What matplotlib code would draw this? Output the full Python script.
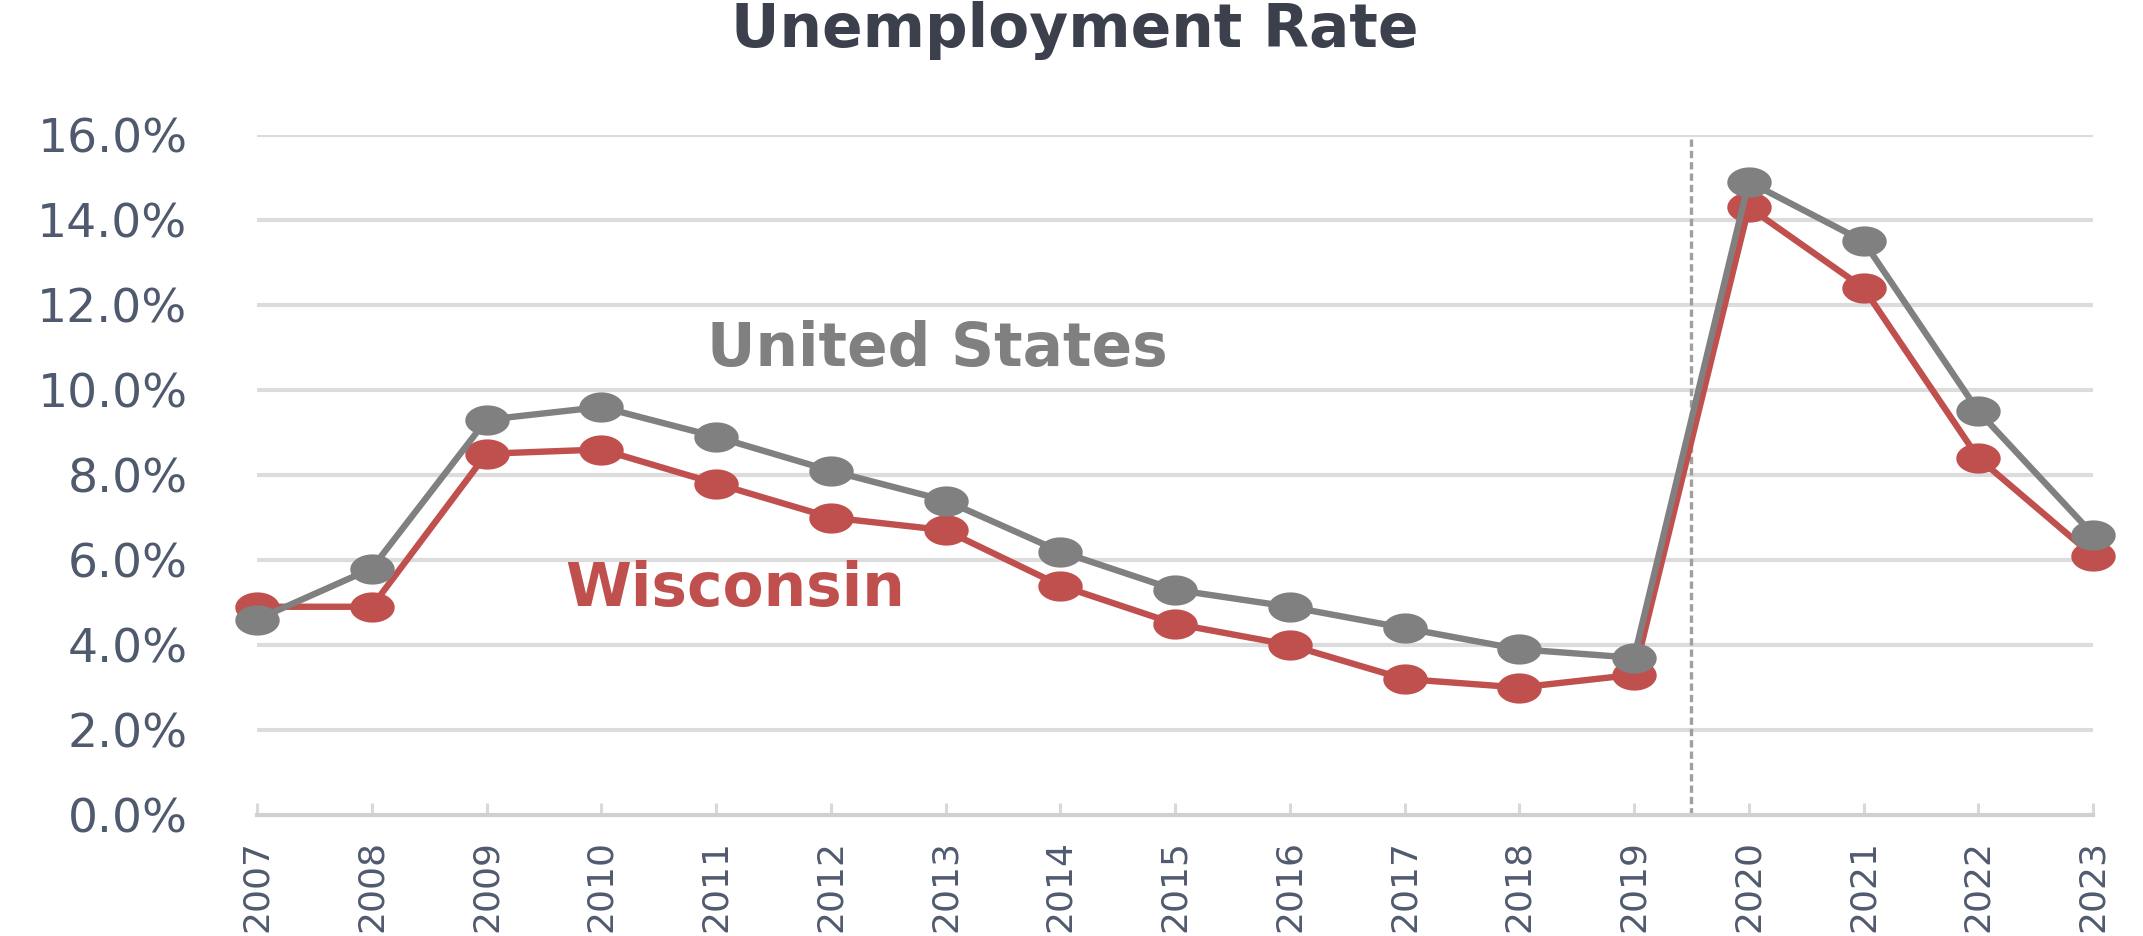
import numpy as np
import matplotlib
matplotlib.use("Agg")
import matplotlib.pyplot as plt
from matplotlib.path import Path
from matplotlib.ticker import FuncFormatter

# ---- data ----
years = [2007, 2008, 2009, 2010, 2011, 2012, 2013, 2014, 2015,
         2016, 2017, 2018, 2019, 2020, 2021, 2022, 2023]
us_rate = [4.6, 5.8, 9.3, 9.6, 8.9, 8.1, 7.4, 6.2, 5.3,
           4.9, 4.4, 3.9, 3.7, 14.9, 13.5, 9.5, 6.6]
wi_rate = [4.9, 4.9, 8.5, 8.6, 7.8, 7.0, 6.7, 5.4, 4.5,
           4.0, 3.2, 3.0, 3.3, 14.3, 12.4, 8.4, 6.1]
yticks = [0, 2, 4, 6, 8, 10, 12, 14, 16]
title = "Unemployment Rate"
us_label = "United States"
wi_label = "Wisconsin"
covid_break = 2019.5

# ---- style ----
US_COLOR = "#808080"
WI_COLOR = "#C0504D"
GRID_COLOR = "#DCDCDC"
LABEL_COLOR = "#505A6E"
TITLE_COLOR = "#3C3F4C"

W, H = 2143, 936
fig = plt.figure(figsize=(W / 100, H / 100), dpi=100)
left, right, top, bottom = 257, 2093, 135, 815
ax = fig.add_axes([left / W, 1 - bottom / H, (right - left) / W, (bottom - top) / H])

# elliptical marker (the reference is horizontally stretched)
t = np.linspace(0, 2 * np.pi, 64)
ell = Path(np.column_stack([0.5 * np.cos(t), 0.34 * np.sin(t)]), closed=True)

ax.set_xlim(years[0], years[-1])
ax.set_ylim(yticks[0], yticks[-1])

for yv in yticks[1:]:
    ax.axhline(yv, color=GRID_COLOR, lw=3.0, zorder=1)

ax.plot([covid_break, covid_break], [yticks[0], yticks[-1]], color="#A0A0A0",
        lw=2.4, linestyle=(0, (2.2, 1.2)), zorder=2)

ax.plot(years, wi_rate, color=WI_COLOR, lw=4.6, marker=ell, markersize=32,
        markeredgewidth=0, zorder=3, clip_on=False)
ax.plot(years, us_rate, color=US_COLOR, lw=4.6, marker=ell, markersize=32,
        markeredgewidth=0, zorder=4, clip_on=False)

ax.text(2012.93, 10.56, us_label, color=US_COLOR, fontsize=43,
        fontweight="bold", ha="center", va="baseline")
ax.text(2011.17, 4.92, wi_label, color=WI_COLOR, fontsize=43,
        fontweight="bold", ha="center", va="baseline")

for s in ["left", "right", "top"]:
    ax.spines[s].set_visible(False)
ax.spines["bottom"].set_color("#D0D0D0")
ax.spines["bottom"].set_linewidth(3.0)

ax.set_yticks(yticks)
ax.yaxis.set_major_formatter(FuncFormatter(lambda v, p: f"{v:.1f}%"))
ax.tick_params(axis="y", length=0, pad=50, labelsize=34, labelcolor=LABEL_COLOR)

ax.set_xticks(years)
ax.set_xticklabels([str(y) for y in years], rotation=90)
ax.tick_params(axis="x", direction="in", length=9, width=2.2, color="#D9D9D9",
               pad=18, labelsize=26, labelcolor=LABEL_COLOR)

fig.text(1075 / W, 1 - 47 / H, title, color=TITLE_COLOR, fontsize=43,
         fontweight="bold", ha="center", va="baseline")

fig.savefig("out.png", dpi=100, facecolor="white")
